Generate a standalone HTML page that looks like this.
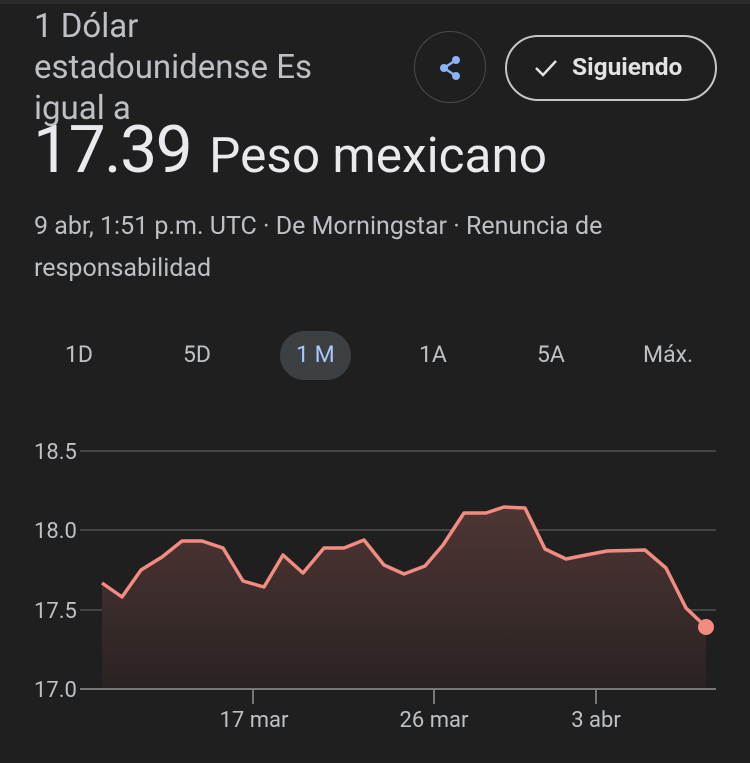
<!DOCTYPE html>
<html><head><meta charset="utf-8"><style>
body{margin:0;width:750px;height:763px;background:#1f1f1f;overflow:hidden;font-family:"Roboto","Liberation Sans",sans-serif;position:relative;color:#bdc1c6}
.a{position:absolute;white-space:nowrap}
</style></head><body>
<div class="a" style="left:0;top:0;width:750px;height:4px;background:#2a2a2a"></div>
<div class="a" style="left:34px;top:6px;font-size:33px;line-height:41px;color:#bdc1c6">1 Dólar<br>estadounidense Es<br>igual a</div>
<div class="a" style="left:33px;top:111px;font-size:66px;line-height:80px;color:#e8eaed;letter-spacing:-1.5px">17.39 <span style="font-size:49.5px;letter-spacing:0;margin-left:3px">Peso mexicano</span></div>
<div class="a" style="left:414px;top:31px;width:72px;height:72px;border:1.5px solid #4a4a4a;border-radius:50%;box-sizing:border-box"></div>
<svg class="a" style="left:436px;top:54px" width="30" height="30" viewBox="0 0 30 30"><line x1="20" y1="6" x2="8" y2="14" stroke="#8ab4f8" stroke-width="2.5"/><line x1="20" y1="22" x2="8" y2="14" stroke="#8ab4f8" stroke-width="2.5"/><circle cx="20" cy="6" r="4" fill="#8ab4f8"/><circle cx="20" cy="22" r="4" fill="#8ab4f8"/><circle cx="8" cy="14" r="4" fill="#8ab4f8"/></svg>
<div class="a" style="left:505px;top:35px;width:212px;height:66px;border:2px solid #c4c7c5;border-radius:33px;box-sizing:border-box"></div>
<svg class="a" style="left:533px;top:57px" width="26" height="22"><polyline points="3,11 10,18 23,4" fill="none" stroke="#e3e3e3" stroke-width="2.5"/></svg>
<div class="a" style="left:572px;top:53px;font-size:24.5px;line-height:28px;color:#e3e3e3;font-weight:bold">Siguiendo</div>
<div class="a" style="left:34px;top:206px;font-size:25px;line-height:42px;color:#bdc1c6">9 abr, 1:51 p.m. UTC · De Morningstar · Renuncia de<br>responsabilidad</div>
<div class="a" style="left:280px;top:331px;width:71px;height:49px;border-radius:25px;background:#3c4043"></div>
<div class="a" style="top:342px;font-size:23px;line-height:26px;left:0;width:750px">
<span class="a" style="left:65px">1D</span><span class="a" style="left:183px">5D</span><span class="a" style="left:296px;color:#a8c7fa">1 M</span><span class="a" style="left:419px">1A</span><span class="a" style="left:537px">5A</span><span class="a" style="left:643px">Máx.</span></div>
<svg class="a" style="left:0;top:0" width="750" height="763">
<defs><linearGradient id="g" x1="0" y1="0" x2="0" y2="1"><stop offset="0" stop-color="#4e3634"/><stop offset="1" stop-color="#2a2222"/></linearGradient></defs>
<g stroke="#444" stroke-width="2"><line x1="80" y1="451" x2="716" y2="451"/><line x1="80" y1="530" x2="716" y2="530"/><line x1="80" y1="610" x2="716" y2="610"/></g>
<polygon fill="url(#g)" points="102,689 102,583 122,597 141,570 162,557 182,541 202,541 223,548 243,581 264,587 283,555 303,573 324,548 344,548 364,540 384,565 404,574 425,566 443,545 464,513 486,513 504,507 525,508 545,549 566,559 586,555 607,551 645,550 666,568 686,608 706,627 706,689"/>
<polyline fill="none" stroke="#f28b82" stroke-width="3.5" stroke-linejoin="round" points="102,583 122,597 141,570 162,557 182,541 202,541 223,548 243,581 264,587 283,555 303,573 324,548 344,548 364,540 384,565 404,574 425,566 443,545 464,513 486,513 504,507 525,508 545,549 566,559 586,555 607,551 645,550 666,568 686,608 706,627"/>
<circle cx="706" cy="627" r="8" fill="#f28b82"/>
<line x1="80" y1="689" x2="716" y2="689" stroke="#777" stroke-width="2"/>
<g stroke="#777" stroke-width="2"><line x1="253" y1="689" x2="253" y2="704"/><line x1="434" y1="689" x2="434" y2="704"/><line x1="596" y1="689" x2="596" y2="704"/></g>
<g font-family="Roboto,'Liberation Sans',sans-serif" font-size="22" fill="#bdc1c6">
<text x="34" y="459">18.5</text><text x="34" y="538">18.0</text><text x="34" y="618">17.5</text><text x="34" y="697">17.0</text>
<text x="254" y="727" text-anchor="middle">17 mar</text><text x="434" y="727" text-anchor="middle">26 mar</text><text x="596" y="727" text-anchor="middle">3 abr</text></g>
</svg>
</body></html>
